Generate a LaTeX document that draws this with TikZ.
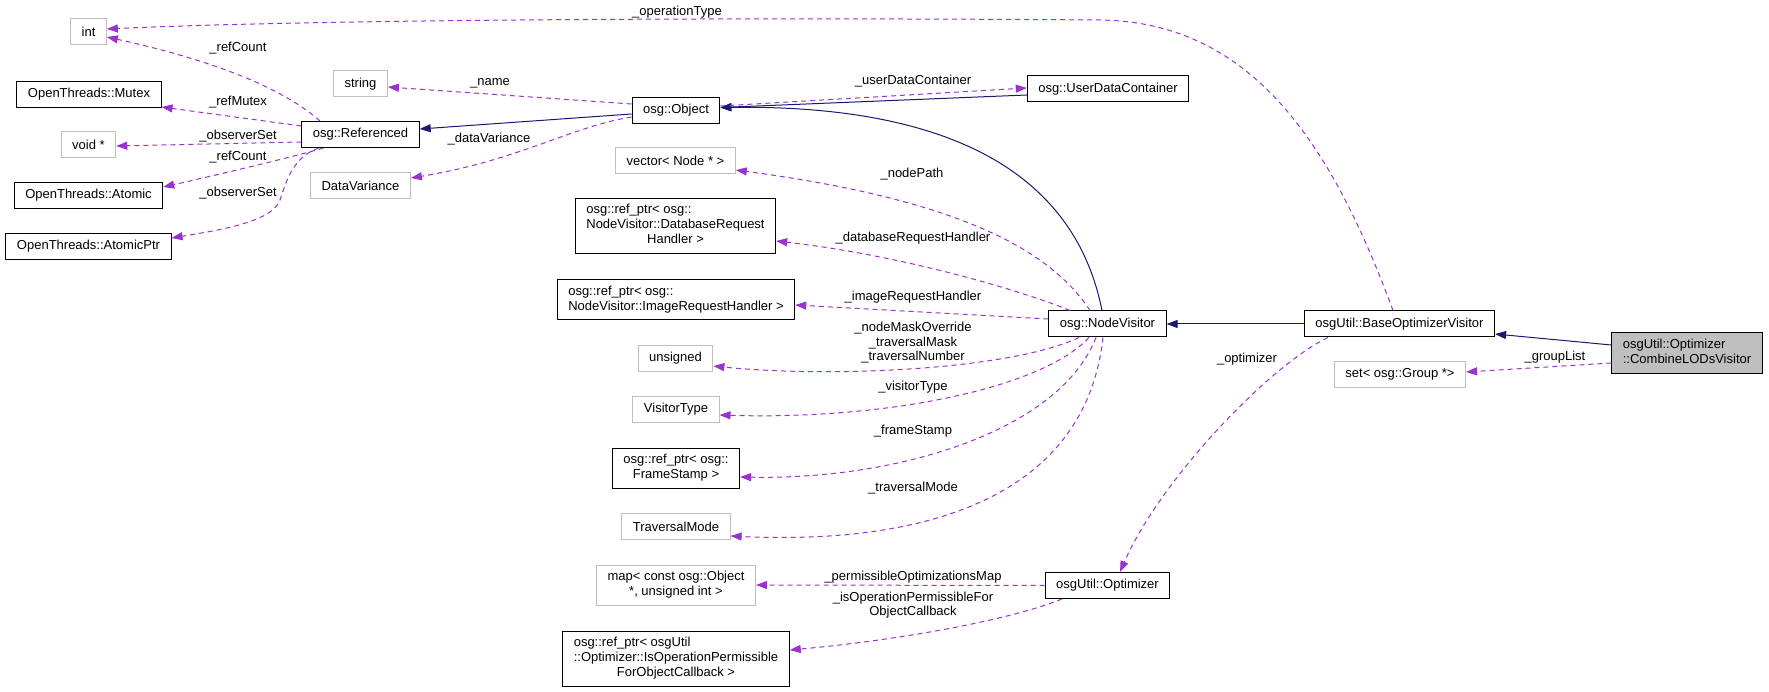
\documentclass[tikz,border=0pt]{standalone}
\usepackage{fontspec}
\setmainfont{Liberation Sans}
\usetikzlibrary{arrows.meta}

\definecolor{edgepurple}{HTML}{9A32CD}
\definecolor{edgeblue}{HTML}{191970}
\definecolor{boxgray}{HTML}{BFBFBF}

\tikzset{
  box/.style={draw=black, line width=1pt, rectangle, inner xsep=11pt, inner ysep=5pt,
    minimum height=26pt, font=\fontsize{13}{15}\selectfont},
  ext/.style={box, draw=boxgray},
  usage/.style={draw=edgepurple, line width=1pt, dash pattern=on 5pt off 4pt,
    -{Triangle[length=11pt,width=8pt]}},
  inherit/.style={draw=edgeblue, line width=1pt, -{Triangle[length=11pt,width=8pt]}},
  lbl/.style={inner sep=0pt, align=center, font=\fontsize{13}{14.5}\selectfont}
}

\begin{document}
\begin{tikzpicture}[x=1pt,y=-1pt]
	\fill[white] (0,0) rectangle (1769,692);
	\useasboundingbox (0,0) rectangle (1769,692);

	% left column
	\node[ext] (int) at (88.5,31.5) {int};
	\node[box] (mutex) at (89,94.5) {OpenThreads::Mutex};
	\node[ext] (voidp) at (88.5,144.5) {void *};
	\node[box] (atomic) at (88.5,195.5) {OpenThreads::Atomic};
	\node[box] (atomicptr) at (88.5,246.5) {OpenThreads::AtomicPtr};

	\node[ext] (string) at (360.5,84) {string};
	\node[box] (referenced) at (360.5,134.5) {osg::Referenced};
	\node[ext] (datavar) at (360.5,185.5) {DataVariance};

	% middle column
	\node[box] (object) at (676,110.5) {osg::Object};
	\node[ext] (vecnode) at (675.5,161) {vector< Node * >};
	\node[box] (dbreq) at (675.5,226) {\begin{tabular}{@{}l@{}}osg::ref\_ptr< osg::\\NodeVisitor::DatabaseRequest\\\multicolumn{1}{@{}c@{}}{Handler >}\end{tabular}};
	\node[box] (imgreq) at (676,300) {\begin{tabular}{@{}l@{}}osg::ref\_ptr< osg::\\NodeVisitor::ImageRequestHandler >\end{tabular}};
	\node[ext] (unsignedt) at (675.5,358.5) {unsigned};
	\node[ext] (vistype) at (676,409) {VisitorType};
	\node[box] (framestamp) at (676,468) {\begin{tabular}{@{}c@{}}osg::ref\_ptr< osg::\\FrameStamp >\end{tabular}};
	\node[ext] (travmode) at (676,526.5) {TraversalMode};
	\node[ext] (permmap) at (676,585) {\begin{tabular}{@{}c@{}}map< const osg::Object\\{*}, unsigned int >\end{tabular}};
	\node[box] (isopcb) at (676,658.5) {\begin{tabular}{@{}l@{}}osg::ref\_ptr< osgUtil\\::Optimizer::IsOperationPermissible\\\multicolumn{1}{@{}c@{}}{ForObjectCallback >}\end{tabular}};

	% right part
	\node[box] (udc) at (1108,89) {osg::UserDataContainer};
	\node[box] (nodevisitor) at (1107.5,324) {osg::NodeVisitor};
	\node[box] (optimizer) at (1107.5,585.5) {osgUtil::Optimizer};
	\node[box] (baseopt) at (1399.5,324) {osgUtil::BaseOptimizerVisitor};
	\node[ext] (grouplist) at (1400,374.5) {set< osg::Group *>};
	\node[box, fill=boxgray] (combine) at (1687,353) {\begin{tabular}{@{}l@{}}osgUtil::Optimizer\\::CombineLODsVisitor\end{tabular}};

	% inheritance
	\draw[inherit] ([yshift=-3.5pt]object.west) -- ([yshift=5.5pt]referenced.east);
	\draw[inherit] ([yshift=-6pt]udc.west) -- ([yshift=3pt]object.east);
	\draw[inherit] ([xshift=-5.5pt]nodevisitor.north) .. controls (1070,150) and (910,105) .. ([yshift=3pt]object.east);
	\draw[inherit] (baseopt.west) -- (nodevisitor.east);
	\draw[inherit] ([yshift=8pt]combine.west) -- ([yshift=-10pt]baseopt.east);

	% members
	\draw[usage] ([xshift=-6.5pt]baseopt.north) .. controls (1330,140) and (1250,22) .. (1100,20) .. controls (700,17) and (300,20) .. ([yshift=2.5pt]int.east);
	\draw[usage] ([xshift=-40.5pt]referenced.north) .. controls (285,90) and (220,62) .. ([yshift=-5.5pt]int.east);
	\draw[usage] ([yshift=8.5pt]referenced.west) -- ([yshift=1pt]mutex.south east);
	\draw[usage] ([yshift=-7.5pt]referenced.west) -- ([yshift=-1.5pt]voidp.east);
	\draw[usage] ([xshift=-37pt]referenced.south) .. controls (300,155) and (230,172) .. ([yshift=8.5pt]atomic.east);
	\draw[usage] ([xshift=-42pt]referenced.south) .. controls (295,157) and (288,175) .. (280,200) .. controls (272,222) and (220,230) .. ([yshift=8.5pt]atomicptr.east);
	\draw[usage] ([yshift=6.5pt]object.west) -- ([yshift=-3pt]string.east);
	\draw[usage] ([yshift=-6.5pt]object.west) .. controls (570,127) and (520,160) .. ([yshift=7.5pt]datavar.east);
	\draw[usage] ([yshift=4.5pt]object.east) -- ([yshift=1pt]udc.west);
	\draw[usage] ([xshift=-17.5pt]nodevisitor.north) .. controls (1050,250) and (960,200) .. ([yshift=-9pt]vecnode.east);
	\draw[usage] ([xshift=-37.5pt]nodevisitor.north) .. controls (1020,290) and (900,255) .. ([yshift=-15pt]dbreq.east);
	\draw[usage] ([yshift=5pt]nodevisitor.west) -- ([yshift=-5pt]imgreq.east);
	\draw[usage] ([xshift=-28.5pt]nodevisitor.south) .. controls (1010,370) and (830,378) .. ([yshift=-7.5pt]unsignedt.east);
	\draw[usage] ([xshift=-18.5pt]nodevisitor.south) .. controls (1040,390) and (880,420) .. ([yshift=-6pt]vistype.east);
	\draw[usage] ([xshift=-11.5pt]nodevisitor.south) .. controls (1060,430) and (900,480) .. ([yshift=-9pt]framestamp.east);
	\draw[usage] ([xshift=-4.5pt]nodevisitor.south) .. controls (1085,500) and (920,545) .. ([yshift=-9.5pt]travmode.east);
	\draw[usage] ([xshift=-71.5pt]baseopt.south) .. controls (1270,365) and (1160,480) .. ([xshift=12.5pt]optimizer.north);
	\draw[usage] (optimizer.west) -- (permmap.east);
	\draw[usage] ([xshift=-45.5pt]optimizer.south) .. controls (1010,620) and (900,640) .. ([yshift=8.5pt]isopcb.east);
	\draw[usage] ([yshift=-10pt]combine.west) -- ([yshift=2.5pt]grouplist.east);

	% edge labels
	\node[lbl] (lopType) at (677,12) {\_operationType};
	\node[lbl] (lrefCountA) at (238,48) {\_refCount};
	\node[lbl] (lrefMutex) at (238,102) {\_refMutex};
	\node[lbl] (lobsSetA) at (238,136) {\_observerSet};
	\node[lbl] (lrefCountB) at (238,157) {\_refCount};
	\node[lbl] (lobsSetB) at (238,193) {\_observerSet};
	\node[lbl] (lname) at (490,83) {\_name};
	\node[lbl] (ldataVar) at (489,139) {\_dataVariance};
	\node[lbl] (luserData) at (913,81) {\_userDataContainer};
	\node[lbl] (lnodePath) at (912,174) {\_nodePath};
	\node[lbl] (ldbReq) at (913,238) {\_databaseRequestHandler};
	\node[lbl] (limgReq) at (913,297) {\_imageRequestHandler};
	\node[lbl] (lmasks) at (913,343) {\_nodeMaskOverride\\\_traversalMask\\\_traversalNumber};
	\node[lbl] (lvisType) at (913,387) {\_visitorType};
	\node[lbl] (lframe) at (913,431) {\_frameStamp};
	\node[lbl] (ltravMode) at (913,488) {\_traversalMode};
	\node[lbl] (lpermMap) at (913,577) {\_permissibleOptimizationsMap};
	\node[lbl] (lisOp) at (913,605) {\_isOperationPermissibleFor\\ObjectCallback};
	\node[lbl] (loptimizer) at (1247,359) {\_optimizer};
	\node[lbl] (lgroupList) at (1555,357) {\_groupList};
\end{tikzpicture}
\end{document}
